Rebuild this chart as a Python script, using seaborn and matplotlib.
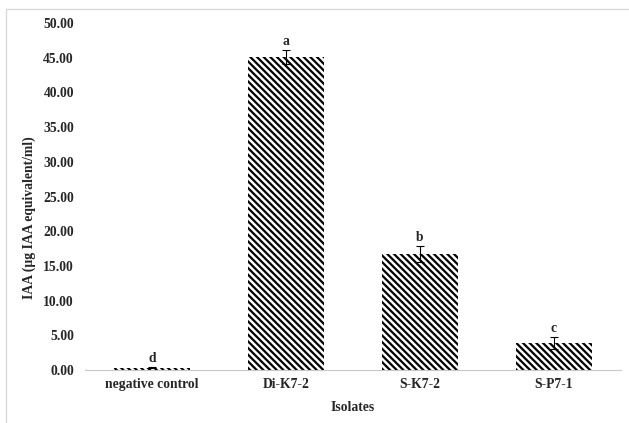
import numpy as np
import pandas as pd
import matplotlib
matplotlib.use("Agg")
import matplotlib.pyplot as plt
from matplotlib.patches import Rectangle
import seaborn as sns

# data
isolates = ["negative control", "Di-K7-2", "S-K7-2", "S-P7-1"]
iaa = [0.35, 45.1, 16.7, 3.9]
err = [0.1, 1.0, 1.2, 0.85]
letters = ["d", "a", "b", "c"]

sns.set_style("white")
plt.rcParams["font.family"] = ["Liberation Serif", "DejaVu Serif"]
plt.rcParams["font.weight"] = "bold"
plt.rcParams["hatch.linewidth"] = 2.0

df = pd.DataFrame({"isolate": isolates, "iaa": iaa})

# dpi 80 so the hatch spacing comes out like the original
dpi = 80
fs = 12.3
fig = plt.figure(figsize=(629 / dpi, 423 / dpi), dpi=dpi)
ax = fig.add_axes([85 / 629, 53 / 423, 536 / 629, 347 / 423])

sns.barplot(data=df, x="isolate", y="iaa", color="white", width=0.57,
            edgecolor="black", linewidth=0, hatch="\\\\\\\\", errorbar=None, ax=ax)

pos = np.arange(len(isolates))
ax.errorbar(pos, iaa, yerr=err, fmt="none", ecolor="black",
            elinewidth=1.0, capsize=3.5, capthick=1.0)
for x, v, e, t in zip(pos, iaa, err, letters):
    ax.text(x, v + e + 0.3, t, ha="center", va="bottom",
            fontsize=fs, fontweight="bold")

ax.set_ylim(0, 50)
ax.set_xlim(-0.5, 3.5)
ax.set_yticks(np.arange(0, 50.1, 5))
ax.set_yticklabels([f"{v:.2f}" for v in np.arange(0, 50.1, 5)])
ax.tick_params(axis="both", length=0, labelsize=fs, pad=10)
ax.tick_params(axis="x", pad=7)
for lab in ax.get_xticklabels() + ax.get_yticklabels():
    lab.set_fontweight("bold")

sns.despine(ax=ax, left=True)
ax.spines["bottom"].set_color("#c8c8c8")
ax.spines["bottom"].set_linewidth(1.0)

ax.set_xlabel("Isolates", fontsize=fs, fontweight="bold", labelpad=9)
ax.set_ylabel("IAA (µg IAA equivalent/ml)", fontsize=fs, fontweight="bold")
ax.yaxis.set_label_coords(-0.092, 0.44)

# light grey chart frame, partly cut off like the screenshot
frame = Rectangle((6 / 629, -0.2), 1.2, 1.2 - 9 / 423,
                  transform=fig.transFigure, fill=False,
                  edgecolor="#d9d9d9", linewidth=1.2)
fig.patches.append(frame)

fig.savefig("out.png", dpi=dpi)
